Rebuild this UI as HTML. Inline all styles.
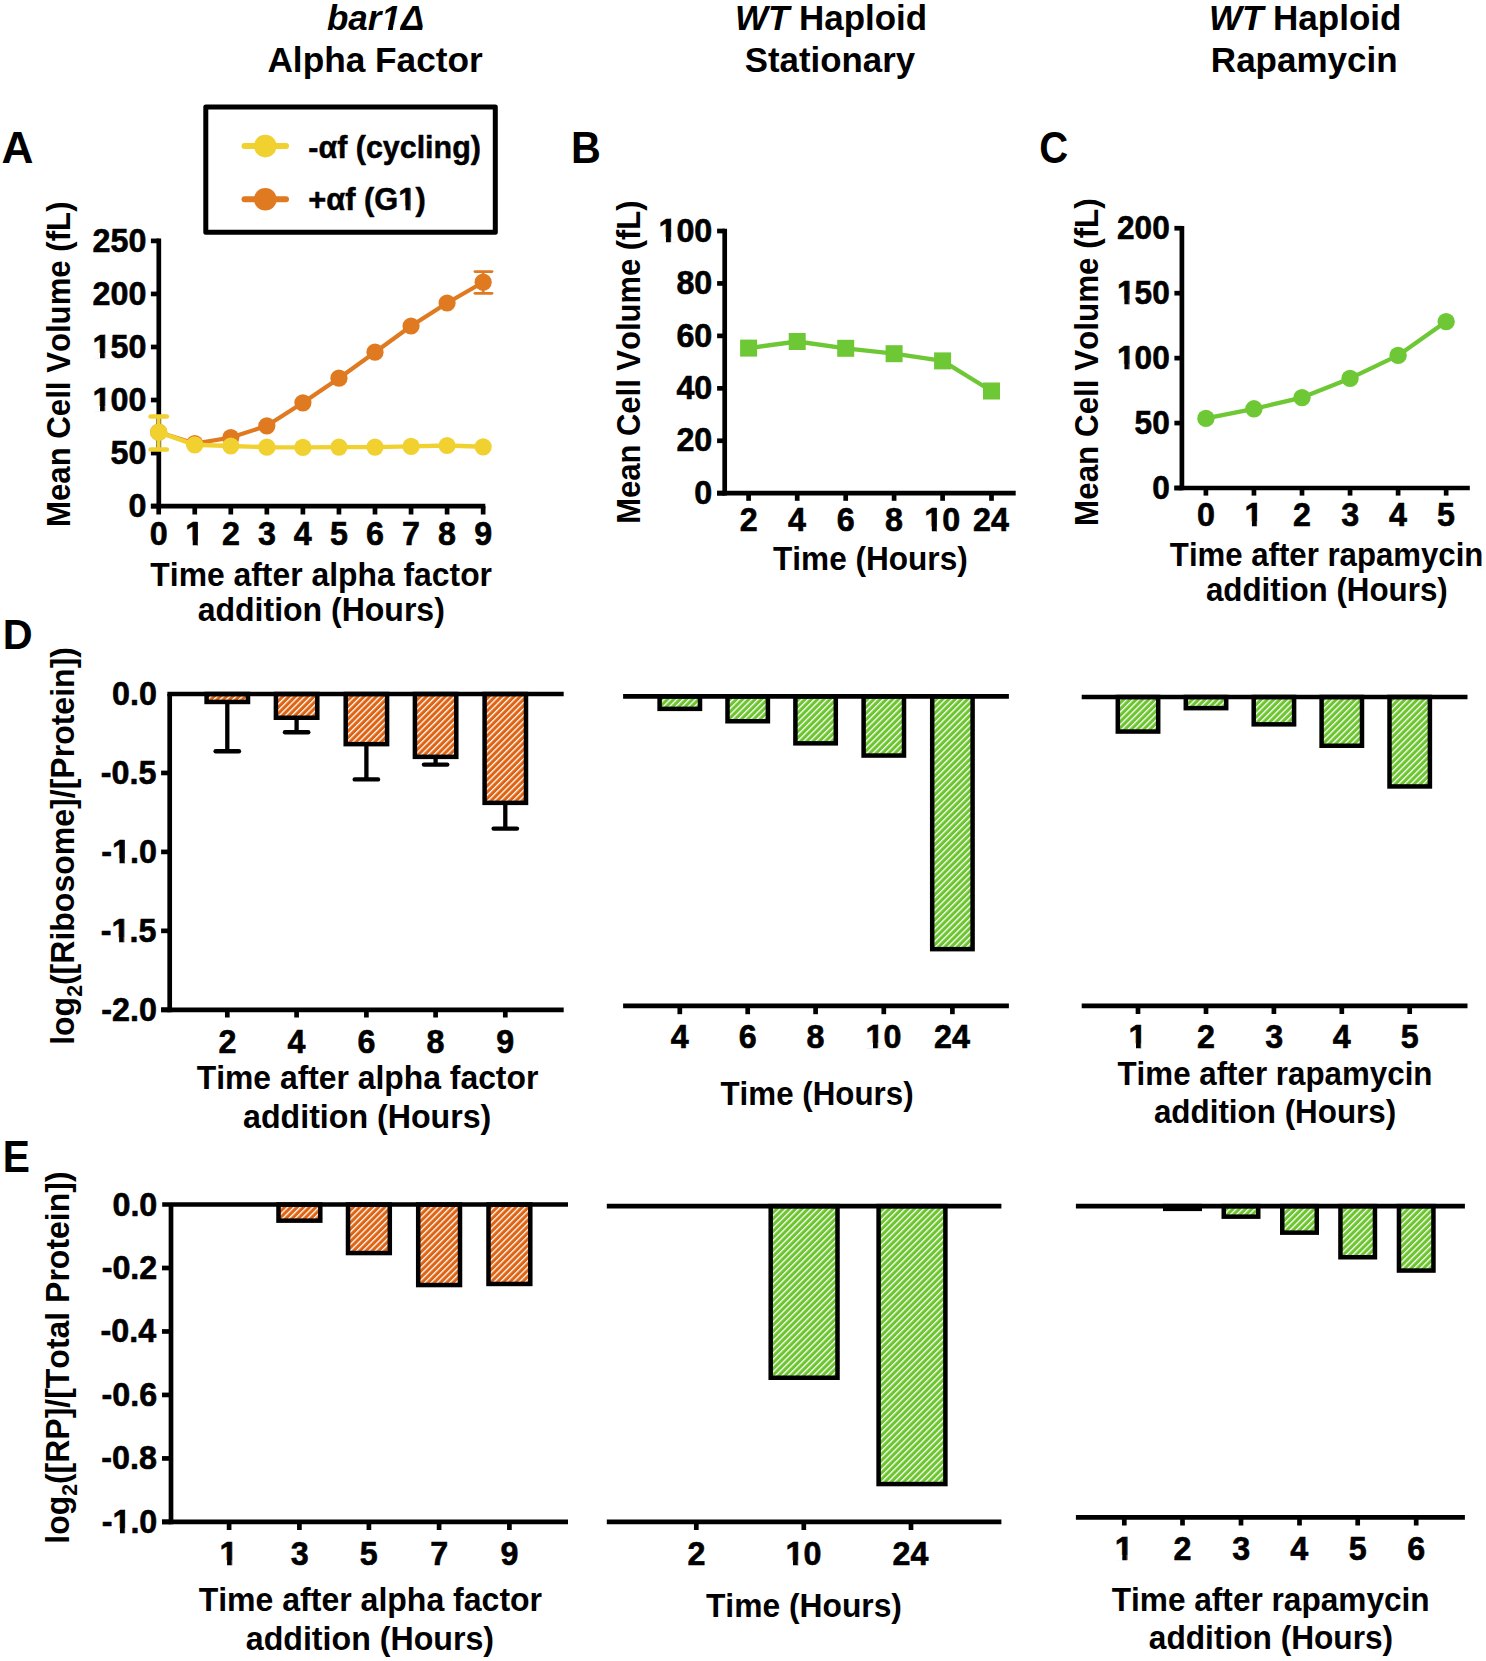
<!DOCTYPE html><html><head><meta charset="utf-8"><style>html,body{margin:0;padding:0;background:#fff;}svg{display:block;font-kerning:none;}</style></head><body><svg width="1486" height="1661" viewBox="0 0 1486 1661">
<defs>
<pattern id="ho" patternUnits="userSpaceOnUse" width="4.42" height="20" patternTransform="rotate(45)"><rect width="4.42" height="20" fill="#DE6414"/><rect x="0" width="1.3" height="20" fill="#fff"/></pattern>
<pattern id="hg" patternUnits="userSpaceOnUse" width="4.42" height="20" patternTransform="rotate(45)"><rect width="4.42" height="20" fill="#6CC52E"/><rect x="0" width="1.3" height="20" fill="#fff"/></pattern>
</defs>
<rect width="1486" height="1661" fill="#fff"/>
<text font-family="Liberation Sans, sans-serif" font-weight="bold" font-size="35" fill="#000" transform="translate(326.9,30.1) scale(1.0003,1)"><tspan font-style="italic">bar1Δ</tspan></text>
<polygon points="380.21,31.3 387.64,31.3 388.65,25.14 381.18,25.14" fill="#fff"/>
<polygon points="392.45,31.3 399.49,31.3 400.47,25.14 393.45,25.14" fill="#fff"/>
<text font-family="Liberation Sans, sans-serif" font-weight="bold" font-size="35" fill="#000" transform="translate(267.42,71.7) scale(1.0070,1)"><tspan font-style="normal">Alpha Factor</tspan></text>
<text font-family="Liberation Sans, sans-serif" font-weight="bold" font-size="35" fill="#000" transform="translate(735.04,30.1) scale(0.9979,1)"><tspan font-style="italic">WT </tspan><tspan font-style="normal">Haploid</tspan></text>
<text font-family="Liberation Sans, sans-serif" font-weight="bold" font-size="35" fill="#000" transform="translate(744.8,71.7) scale(0.9949,1)"><tspan font-style="normal">Stationary</tspan></text>
<text font-family="Liberation Sans, sans-serif" font-weight="bold" font-size="35" fill="#000" transform="translate(1208.94,30.1) scale(1.0000,1)"><tspan font-style="italic">WT </tspan><tspan font-style="normal">Haploid</tspan></text>
<text font-family="Liberation Sans, sans-serif" font-weight="bold" font-size="35" fill="#000" transform="translate(1210.86,71.7) scale(1.0009,1)"><tspan font-style="normal">Rapamycin</tspan></text>
<text font-family="Liberation Sans, sans-serif" font-weight="bold" font-size="43.7" fill="#000" transform="translate(1.5,162.8) scale(1.0130,1)"><tspan font-style="normal">A</tspan></text>
<text font-family="Liberation Sans, sans-serif" font-weight="bold" font-size="43.7" fill="#000" transform="translate(570.94,162.6) scale(0.9456,1)"><tspan font-style="normal">B</tspan></text>
<text font-family="Liberation Sans, sans-serif" font-weight="bold" font-size="44" fill="#000" transform="translate(1039.26,162.5) scale(0.9107,1)"><tspan font-style="normal">C</tspan></text>
<text font-family="Liberation Sans, sans-serif" font-weight="bold" font-size="43.2" fill="#000" transform="translate(2.73,649.1) scale(0.9587,1)"><tspan font-style="normal">D</tspan></text>
<text font-family="Liberation Sans, sans-serif" font-weight="bold" font-size="43.5" fill="#000" transform="translate(2.73,1172.4) scale(0.9363,1)"><tspan font-style="normal">E</tspan></text>
<path d="M 158.8 238.55 V 508.45" stroke="#000" stroke-width="4.7" stroke-linejoin="miter" stroke-linecap="butt" fill="none"/>
<line x1="150.9" y1="506.1" x2="485.3" y2="506.1" stroke="#000" stroke-width="4.7" stroke-linecap="butt"/>
<line x1="150.9" y1="506.1" x2="158.8" y2="506.1" stroke="#000" stroke-width="4.7" stroke-linecap="butt"/>
<text font-family="Liberation Sans, sans-serif" font-weight="bold" font-size="33.3" fill="#000" stroke="#000" stroke-width="0.6" stroke-linejoin="round" transform="translate(128.46,516.8) scale(0.9700,1)"><tspan font-style="normal">0</tspan></text>
<line x1="150.9" y1="453.06" x2="158.8" y2="453.06" stroke="#000" stroke-width="4.7" stroke-linecap="butt"/>
<text font-family="Liberation Sans, sans-serif" font-weight="bold" font-size="33.3" fill="#000" stroke="#000" stroke-width="0.6" stroke-linejoin="round" transform="translate(110.5,463.76) scale(0.9700,1)"><tspan font-style="normal">50</tspan></text>
<line x1="150.9" y1="400.02" x2="158.8" y2="400.02" stroke="#000" stroke-width="4.7" stroke-linecap="butt"/>
<text font-family="Liberation Sans, sans-serif" font-weight="bold" font-size="33.3" fill="#000" stroke="#000" stroke-width="0.6" stroke-linejoin="round" transform="translate(92.53,410.72) scale(0.9700,1)"><tspan font-style="normal">100</tspan></text>
<polygon points="92.77,411.86 100.07,411.86 100.07,406 92.77,406" fill="#fff"/>
<polygon points="104.5,411.86 111.4,411.86 111.4,406 104.5,406" fill="#fff"/>
<rect x="104.5" y="387.51" width="0.7" height="23.51" fill="#000"/>
<line x1="150.9" y1="346.98" x2="158.8" y2="346.98" stroke="#000" stroke-width="4.7" stroke-linecap="butt"/>
<text font-family="Liberation Sans, sans-serif" font-weight="bold" font-size="33.3" fill="#000" stroke="#000" stroke-width="0.6" stroke-linejoin="round" transform="translate(92.53,357.68) scale(0.9700,1)"><tspan font-style="normal">150</tspan></text>
<polygon points="92.77,358.82 100.07,358.82 100.07,352.96 92.77,352.96" fill="#fff"/>
<polygon points="104.5,358.82 111.4,358.82 111.4,352.96 104.5,352.96" fill="#fff"/>
<rect x="104.5" y="334.47" width="0.7" height="23.51" fill="#000"/>
<line x1="150.9" y1="293.94" x2="158.8" y2="293.94" stroke="#000" stroke-width="4.7" stroke-linecap="butt"/>
<text font-family="Liberation Sans, sans-serif" font-weight="bold" font-size="33.3" fill="#000" stroke="#000" stroke-width="0.6" stroke-linejoin="round" transform="translate(92.53,304.64) scale(0.9700,1)"><tspan font-style="normal">200</tspan></text>
<line x1="150.9" y1="240.9" x2="158.8" y2="240.9" stroke="#000" stroke-width="4.7" stroke-linecap="butt"/>
<text font-family="Liberation Sans, sans-serif" font-weight="bold" font-size="33.3" fill="#000" stroke="#000" stroke-width="0.6" stroke-linejoin="round" transform="translate(92.53,251.6) scale(0.9700,1)"><tspan font-style="normal">250</tspan></text>
<line x1="158.7" y1="506.1" x2="158.7" y2="514.5" stroke="#000" stroke-width="4.7" stroke-linecap="butt"/>
<text font-family="Liberation Sans, sans-serif" font-weight="bold" font-size="33.3" fill="#000" stroke="#000" stroke-width="0.6" stroke-linejoin="round" transform="translate(149.74,545.3) scale(0.9700,1)"><tspan font-style="normal">0</tspan></text>
<line x1="194.75" y1="506.1" x2="194.75" y2="514.5" stroke="#000" stroke-width="4.7" stroke-linecap="butt"/>
<text font-family="Liberation Sans, sans-serif" font-weight="bold" font-size="33.3" fill="#000" stroke="#000" stroke-width="0.6" stroke-linejoin="round" transform="translate(185.2,545.3) scale(0.9700,1)"><tspan font-style="normal">1</tspan></text>
<polygon points="185.43,546.44 192.74,546.44 192.74,540.58 185.43,540.58" fill="#fff"/>
<polygon points="197.17,546.44 204.07,546.44 204.07,540.58 197.17,540.58" fill="#fff"/>
<rect x="197.17" y="522.09" width="0.7" height="23.51" fill="#000"/>
<line x1="230.8" y1="506.1" x2="230.8" y2="514.5" stroke="#000" stroke-width="4.7" stroke-linecap="butt"/>
<text font-family="Liberation Sans, sans-serif" font-weight="bold" font-size="33.3" fill="#000" stroke="#000" stroke-width="0.6" stroke-linejoin="round" transform="translate(221.9,545.3) scale(0.9700,1)"><tspan font-style="normal">2</tspan></text>
<line x1="266.85" y1="506.1" x2="266.85" y2="514.5" stroke="#000" stroke-width="4.7" stroke-linecap="butt"/>
<text font-family="Liberation Sans, sans-serif" font-weight="bold" font-size="33.3" fill="#000" stroke="#000" stroke-width="0.6" stroke-linejoin="round" transform="translate(258.08,545.3) scale(0.9700,1)"><tspan font-style="normal">3</tspan></text>
<line x1="302.9" y1="506.1" x2="302.9" y2="514.5" stroke="#000" stroke-width="4.7" stroke-linecap="butt"/>
<text font-family="Liberation Sans, sans-serif" font-weight="bold" font-size="33.3" fill="#000" stroke="#000" stroke-width="0.6" stroke-linejoin="round" transform="translate(293.76,545.3) scale(0.9700,1)"><tspan font-style="normal">4</tspan></text>
<line x1="338.95" y1="506.1" x2="338.95" y2="514.5" stroke="#000" stroke-width="4.7" stroke-linecap="butt"/>
<text font-family="Liberation Sans, sans-serif" font-weight="bold" font-size="33.3" fill="#000" stroke="#000" stroke-width="0.6" stroke-linejoin="round" transform="translate(329.92,545.3) scale(0.9700,1)"><tspan font-style="normal">5</tspan></text>
<line x1="375" y1="506.1" x2="375" y2="514.5" stroke="#000" stroke-width="4.7" stroke-linecap="butt"/>
<text font-family="Liberation Sans, sans-serif" font-weight="bold" font-size="33.3" fill="#000" stroke="#000" stroke-width="0.6" stroke-linejoin="round" transform="translate(366.01,545.3) scale(0.9700,1)"><tspan font-style="normal">6</tspan></text>
<line x1="411.05" y1="506.1" x2="411.05" y2="514.5" stroke="#000" stroke-width="4.7" stroke-linecap="butt"/>
<text font-family="Liberation Sans, sans-serif" font-weight="bold" font-size="33.3" fill="#000" stroke="#000" stroke-width="0.6" stroke-linejoin="round" transform="translate(402.08,545.3) scale(0.9700,1)"><tspan font-style="normal">7</tspan></text>
<line x1="447.1" y1="506.1" x2="447.1" y2="514.5" stroke="#000" stroke-width="4.7" stroke-linecap="butt"/>
<text font-family="Liberation Sans, sans-serif" font-weight="bold" font-size="33.3" fill="#000" stroke="#000" stroke-width="0.6" stroke-linejoin="round" transform="translate(438.1,545.3) scale(0.9700,1)"><tspan font-style="normal">8</tspan></text>
<line x1="483.15" y1="506.1" x2="483.15" y2="514.5" stroke="#000" stroke-width="4.7" stroke-linecap="butt"/>
<text font-family="Liberation Sans, sans-serif" font-weight="bold" font-size="33.3" fill="#000" stroke="#000" stroke-width="0.6" stroke-linejoin="round" transform="translate(474.21,545.3) scale(0.9700,1)"><tspan font-style="normal">9</tspan></text>
<text font-family="Liberation Sans, sans-serif" font-weight="bold" font-size="34" fill="#000" transform="translate(150.34,586) scale(0.9374,1)"><tspan font-style="normal">Time after alpha factor</tspan></text>
<text font-family="Liberation Sans, sans-serif" font-weight="bold" font-size="34" fill="#000" transform="translate(197.66,621.3) scale(0.9418,1)"><tspan font-style="normal">addition (Hours)</tspan></text>
<text font-family="Liberation Sans, sans-serif" font-weight="bold" font-size="34" transform="translate(70.1,526.98) rotate(-90) scale(0.9166,1)"><tspan font-style="normal">Mean Cell Volume (fL)</tspan></text>
<path d="M 158.7 432.2 L 194.75 443.5 L 230.8 437.6 L 266.85 425.8 L 302.9 402.8 L 338.95 378.2 L 375 352.2 L 411.05 326 L 447.1 303 L 483.15 282.2" stroke="#E07A20" stroke-width="4.2" stroke-linejoin="round" stroke-linecap="butt" fill="none"/>
<line x1="483.15" y1="271.6" x2="483.15" y2="293.3" stroke="#E07A20" stroke-width="2.8" stroke-linecap="butt"/>
<line x1="475" y1="271.6" x2="492" y2="271.6" stroke="#E07A20" stroke-width="2.8" stroke-linecap="round"/>
<line x1="475" y1="293.3" x2="492" y2="293.3" stroke="#E07A20" stroke-width="2.8" stroke-linecap="round"/>
<circle cx="158.7" cy="432.2" r="8.6" fill="#E07A20"/>
<circle cx="194.75" cy="443.5" r="8.6" fill="#E07A20"/>
<circle cx="230.8" cy="437.6" r="8.6" fill="#E07A20"/>
<circle cx="266.85" cy="425.8" r="8.6" fill="#E07A20"/>
<circle cx="302.9" cy="402.8" r="8.6" fill="#E07A20"/>
<circle cx="338.95" cy="378.2" r="8.6" fill="#E07A20"/>
<circle cx="375" cy="352.2" r="8.6" fill="#E07A20"/>
<circle cx="411.05" cy="326" r="8.6" fill="#E07A20"/>
<circle cx="447.1" cy="303" r="8.6" fill="#E07A20"/>
<circle cx="483.15" cy="282.2" r="8.6" fill="#E07A20"/>
<path d="M 158.7 432.2 L 194.75 444.8 L 230.8 446 L 266.85 447.2 L 302.9 447.4 L 338.95 447.1 L 375 447.1 L 411.05 446.4 L 447.1 445.5 L 483.15 446.8" stroke="#F1D130" stroke-width="4.4" stroke-linejoin="round" stroke-linecap="butt" fill="none"/>
<line x1="158.7" y1="416.5" x2="158.7" y2="449.5" stroke="#F1D130" stroke-width="4" stroke-linecap="butt"/>
<line x1="150.6" y1="416.5" x2="166.8" y2="416.5" stroke="#F1D130" stroke-width="4.6" stroke-linecap="round"/>
<line x1="150.6" y1="449.5" x2="166.8" y2="449.5" stroke="#F1D130" stroke-width="4.6" stroke-linecap="round"/>
<circle cx="158.7" cy="432.2" r="8.6" fill="#F1D130"/>
<circle cx="194.75" cy="444.8" r="8.6" fill="#F1D130"/>
<circle cx="230.8" cy="446" r="8.6" fill="#F1D130"/>
<circle cx="266.85" cy="447.2" r="8.6" fill="#F1D130"/>
<circle cx="302.9" cy="447.4" r="8.6" fill="#F1D130"/>
<circle cx="338.95" cy="447.1" r="8.6" fill="#F1D130"/>
<circle cx="375" cy="447.1" r="8.6" fill="#F1D130"/>
<circle cx="411.05" cy="446.4" r="8.6" fill="#F1D130"/>
<circle cx="447.1" cy="445.5" r="8.6" fill="#F1D130"/>
<circle cx="483.15" cy="446.8" r="8.6" fill="#F1D130"/>
<rect x="205.8" y="106.9" width="289.5" height="125.3" fill="none" stroke="#000" stroke-width="5" stroke-linejoin="round"/>
<line x1="244.5" y1="146.1" x2="286" y2="146.1" stroke="#F1D130" stroke-width="6" stroke-linecap="round"/>
<circle cx="265.3" cy="146.1" r="11.3" fill="#F1D130"/>
<line x1="244.5" y1="199.3" x2="286" y2="199.3" stroke="#E07A20" stroke-width="6" stroke-linecap="round"/>
<circle cx="265.3" cy="199.3" r="11.3" fill="#E07A20"/>
<text font-family="Liberation Sans, sans-serif" font-weight="bold" font-size="31.8" fill="#000" stroke="#000" stroke-width="0.5" stroke-linejoin="round" transform="translate(308.36,157.8) scale(0.9572,1)"><tspan font-style="normal">-αf (cycling)</tspan></text>
<text font-family="Liberation Sans, sans-serif" font-weight="bold" font-size="31.8" fill="#000" stroke="#000" stroke-width="0.5" stroke-linejoin="round" transform="translate(308.25,210.4) scale(0.9702,1)"><tspan font-style="normal">+αf (G1)</tspan></text>
<polygon points="398.55,211.49 405.56,211.49 405.56,205.9 398.55,205.9" fill="#fff"/>
<polygon points="409.79,211.49 416.4,211.49 416.4,205.9 409.79,205.9" fill="#fff"/>
<rect x="409.79" y="188.27" width="0.7" height="22.38" fill="#000"/>
<path d="M 724.7 228.65 V 495.55" stroke="#000" stroke-width="4.7" stroke-linejoin="miter" stroke-linecap="butt" fill="none"/>
<line x1="717.1" y1="493.2" x2="1015.7" y2="493.2" stroke="#000" stroke-width="4.7" stroke-linecap="butt"/>
<line x1="717.1" y1="493.2" x2="724.7" y2="493.2" stroke="#000" stroke-width="4.7" stroke-linecap="butt"/>
<text font-family="Liberation Sans, sans-serif" font-weight="bold" font-size="33.3" fill="#000" stroke="#000" stroke-width="0.6" stroke-linejoin="round" transform="translate(694.36,503.9) scale(0.9700,1)"><tspan font-style="normal">0</tspan></text>
<line x1="717.1" y1="440.76" x2="724.7" y2="440.76" stroke="#000" stroke-width="4.7" stroke-linecap="butt"/>
<text font-family="Liberation Sans, sans-serif" font-weight="bold" font-size="33.3" fill="#000" stroke="#000" stroke-width="0.6" stroke-linejoin="round" transform="translate(676.4,451.46) scale(0.9700,1)"><tspan font-style="normal">20</tspan></text>
<line x1="717.1" y1="388.32" x2="724.7" y2="388.32" stroke="#000" stroke-width="4.7" stroke-linecap="butt"/>
<text font-family="Liberation Sans, sans-serif" font-weight="bold" font-size="33.3" fill="#000" stroke="#000" stroke-width="0.6" stroke-linejoin="round" transform="translate(676.4,399.02) scale(0.9700,1)"><tspan font-style="normal">40</tspan></text>
<line x1="717.1" y1="335.88" x2="724.7" y2="335.88" stroke="#000" stroke-width="4.7" stroke-linecap="butt"/>
<text font-family="Liberation Sans, sans-serif" font-weight="bold" font-size="33.3" fill="#000" stroke="#000" stroke-width="0.6" stroke-linejoin="round" transform="translate(676.4,346.58) scale(0.9700,1)"><tspan font-style="normal">60</tspan></text>
<line x1="717.1" y1="283.44" x2="724.7" y2="283.44" stroke="#000" stroke-width="4.7" stroke-linecap="butt"/>
<text font-family="Liberation Sans, sans-serif" font-weight="bold" font-size="33.3" fill="#000" stroke="#000" stroke-width="0.6" stroke-linejoin="round" transform="translate(676.4,294.14) scale(0.9700,1)"><tspan font-style="normal">80</tspan></text>
<line x1="717.1" y1="231" x2="724.7" y2="231" stroke="#000" stroke-width="4.7" stroke-linecap="butt"/>
<text font-family="Liberation Sans, sans-serif" font-weight="bold" font-size="33.3" fill="#000" stroke="#000" stroke-width="0.6" stroke-linejoin="round" transform="translate(658.43,241.7) scale(0.9700,1)"><tspan font-style="normal">100</tspan></text>
<polygon points="658.67,242.84 665.97,242.84 665.97,236.98 658.67,236.98" fill="#fff"/>
<polygon points="670.4,242.84 677.3,242.84 677.3,236.98 670.4,236.98" fill="#fff"/>
<rect x="670.4" y="218.49" width="0.7" height="23.51" fill="#000"/>
<line x1="748.6" y1="493.2" x2="748.6" y2="500.8" stroke="#000" stroke-width="4.7" stroke-linecap="butt"/>
<text font-family="Liberation Sans, sans-serif" font-weight="bold" font-size="33.3" fill="#000" stroke="#000" stroke-width="0.6" stroke-linejoin="round" transform="translate(739.7,531.2) scale(0.9700,1)"><tspan font-style="normal">2</tspan></text>
<line x1="797.2" y1="493.2" x2="797.2" y2="500.8" stroke="#000" stroke-width="4.7" stroke-linecap="butt"/>
<text font-family="Liberation Sans, sans-serif" font-weight="bold" font-size="33.3" fill="#000" stroke="#000" stroke-width="0.6" stroke-linejoin="round" transform="translate(788.06,531.2) scale(0.9700,1)"><tspan font-style="normal">4</tspan></text>
<line x1="845.7" y1="493.2" x2="845.7" y2="500.8" stroke="#000" stroke-width="4.7" stroke-linecap="butt"/>
<text font-family="Liberation Sans, sans-serif" font-weight="bold" font-size="33.3" fill="#000" stroke="#000" stroke-width="0.6" stroke-linejoin="round" transform="translate(836.71,531.2) scale(0.9700,1)"><tspan font-style="normal">6</tspan></text>
<line x1="894.1" y1="493.2" x2="894.1" y2="500.8" stroke="#000" stroke-width="4.7" stroke-linecap="butt"/>
<text font-family="Liberation Sans, sans-serif" font-weight="bold" font-size="33.3" fill="#000" stroke="#000" stroke-width="0.6" stroke-linejoin="round" transform="translate(885.1,531.2) scale(0.9700,1)"><tspan font-style="normal">8</tspan></text>
<line x1="942.6" y1="493.2" x2="942.6" y2="500.8" stroke="#000" stroke-width="4.7" stroke-linecap="butt"/>
<text font-family="Liberation Sans, sans-serif" font-weight="bold" font-size="33.3" fill="#000" stroke="#000" stroke-width="0.6" stroke-linejoin="round" transform="translate(924.28,531.2) scale(0.9700,1)"><tspan font-style="normal">10</tspan></text>
<polygon points="924.52,532.34 931.82,532.34 931.82,526.48 924.52,526.48" fill="#fff"/>
<polygon points="936.25,532.34 943.15,532.34 943.15,526.48 936.25,526.48" fill="#fff"/>
<rect x="936.25" y="507.99" width="0.7" height="23.51" fill="#000"/>
<line x1="991.5" y1="493.2" x2="991.5" y2="500.8" stroke="#000" stroke-width="4.7" stroke-linecap="butt"/>
<text font-family="Liberation Sans, sans-serif" font-weight="bold" font-size="33.3" fill="#000" stroke="#000" stroke-width="0.6" stroke-linejoin="round" transform="translate(973.06,531.2) scale(0.9700,1)"><tspan font-style="normal">24</tspan></text>
<text font-family="Liberation Sans, sans-serif" font-weight="bold" font-size="34" fill="#000" transform="translate(773.05,569.8) scale(0.9287,1)"><tspan font-style="normal">Time (Hours)</tspan></text>
<text font-family="Liberation Sans, sans-serif" font-weight="bold" font-size="34" transform="translate(640.1,523.67) rotate(-90) scale(0.9104,1)"><tspan font-style="normal">Mean Cell Volume (fL)</tspan></text>
<path d="M 748.6 348.1 L 797.2 341.5 L 845.7 348.3 L 894.1 353.7 L 942.6 360.9 L 991.5 391" stroke="#6EC835" stroke-width="4.3" stroke-linejoin="round" stroke-linecap="butt" fill="none"/>
<rect x="740.1" y="339.6" width="17" height="17" fill="#6EC835"/>
<rect x="788.7" y="333" width="17" height="17" fill="#6EC835"/>
<rect x="837.2" y="339.8" width="17" height="17" fill="#6EC835"/>
<rect x="885.6" y="345.2" width="17" height="17" fill="#6EC835"/>
<rect x="934.1" y="352.4" width="17" height="17" fill="#6EC835"/>
<rect x="983" y="382.5" width="17" height="17" fill="#6EC835"/>
<path d="M 1181.9 225.89 V 490.35" stroke="#000" stroke-width="4.7" stroke-linejoin="miter" stroke-linecap="butt" fill="none"/>
<line x1="1174.4" y1="488" x2="1469.8" y2="488" stroke="#000" stroke-width="4.7" stroke-linecap="butt"/>
<line x1="1174.4" y1="488" x2="1181.9" y2="488" stroke="#000" stroke-width="4.7" stroke-linecap="butt"/>
<text font-family="Liberation Sans, sans-serif" font-weight="bold" font-size="33.3" fill="#000" stroke="#000" stroke-width="0.6" stroke-linejoin="round" transform="translate(1152.2,498.9) scale(0.9500,1)"><tspan font-style="normal">0</tspan></text>
<line x1="1174.4" y1="423.06" x2="1181.9" y2="423.06" stroke="#000" stroke-width="4.7" stroke-linecap="butt"/>
<text font-family="Liberation Sans, sans-serif" font-weight="bold" font-size="33.3" fill="#000" stroke="#000" stroke-width="0.6" stroke-linejoin="round" transform="translate(1134.61,433.96) scale(0.9500,1)"><tspan font-style="normal">50</tspan></text>
<line x1="1174.4" y1="358.12" x2="1181.9" y2="358.12" stroke="#000" stroke-width="4.7" stroke-linecap="butt"/>
<text font-family="Liberation Sans, sans-serif" font-weight="bold" font-size="33.3" fill="#000" stroke="#000" stroke-width="0.6" stroke-linejoin="round" transform="translate(1117.02,369.02) scale(0.9500,1)"><tspan font-style="normal">100</tspan></text>
<polygon points="1117.21,370.16 1124.4,370.16 1124.4,364.3 1117.21,364.3" fill="#fff"/>
<polygon points="1128.74,370.16 1135.53,370.16 1135.53,364.3 1128.74,364.3" fill="#fff"/>
<rect x="1128.74" y="345.81" width="0.7" height="23.51" fill="#000"/>
<line x1="1174.4" y1="293.18" x2="1181.9" y2="293.18" stroke="#000" stroke-width="4.7" stroke-linecap="butt"/>
<text font-family="Liberation Sans, sans-serif" font-weight="bold" font-size="33.3" fill="#000" stroke="#000" stroke-width="0.6" stroke-linejoin="round" transform="translate(1117.02,304.08) scale(0.9500,1)"><tspan font-style="normal">150</tspan></text>
<polygon points="1117.21,305.22 1124.4,305.22 1124.4,299.36 1117.21,299.36" fill="#fff"/>
<polygon points="1128.74,305.22 1135.53,305.22 1135.53,299.36 1128.74,299.36" fill="#fff"/>
<rect x="1128.74" y="280.87" width="0.7" height="23.51" fill="#000"/>
<line x1="1174.4" y1="228.24" x2="1181.9" y2="228.24" stroke="#000" stroke-width="4.7" stroke-linecap="butt"/>
<text font-family="Liberation Sans, sans-serif" font-weight="bold" font-size="33.3" fill="#000" stroke="#000" stroke-width="0.6" stroke-linejoin="round" transform="translate(1117.02,239.14) scale(0.9500,1)"><tspan font-style="normal">200</tspan></text>
<line x1="1205.9" y1="488" x2="1205.9" y2="495.6" stroke="#000" stroke-width="4.7" stroke-linecap="butt"/>
<text font-family="Liberation Sans, sans-serif" font-weight="bold" font-size="33.3" fill="#000" stroke="#000" stroke-width="0.6" stroke-linejoin="round" transform="translate(1196.94,526) scale(0.9700,1)"><tspan font-style="normal">0</tspan></text>
<line x1="1253.95" y1="488" x2="1253.95" y2="495.6" stroke="#000" stroke-width="4.7" stroke-linecap="butt"/>
<text font-family="Liberation Sans, sans-serif" font-weight="bold" font-size="33.3" fill="#000" stroke="#000" stroke-width="0.6" stroke-linejoin="round" transform="translate(1244.4,526) scale(0.9700,1)"><tspan font-style="normal">1</tspan></text>
<polygon points="1244.63,527.14 1251.94,527.14 1251.94,521.28 1244.63,521.28" fill="#fff"/>
<polygon points="1256.37,527.14 1263.27,527.14 1263.27,521.28 1256.37,521.28" fill="#fff"/>
<rect x="1256.37" y="502.79" width="0.7" height="23.51" fill="#000"/>
<line x1="1302" y1="488" x2="1302" y2="495.6" stroke="#000" stroke-width="4.7" stroke-linecap="butt"/>
<text font-family="Liberation Sans, sans-serif" font-weight="bold" font-size="33.3" fill="#000" stroke="#000" stroke-width="0.6" stroke-linejoin="round" transform="translate(1293.1,526) scale(0.9700,1)"><tspan font-style="normal">2</tspan></text>
<line x1="1350.05" y1="488" x2="1350.05" y2="495.6" stroke="#000" stroke-width="4.7" stroke-linecap="butt"/>
<text font-family="Liberation Sans, sans-serif" font-weight="bold" font-size="33.3" fill="#000" stroke="#000" stroke-width="0.6" stroke-linejoin="round" transform="translate(1341.28,526) scale(0.9700,1)"><tspan font-style="normal">3</tspan></text>
<line x1="1398.1" y1="488" x2="1398.1" y2="495.6" stroke="#000" stroke-width="4.7" stroke-linecap="butt"/>
<text font-family="Liberation Sans, sans-serif" font-weight="bold" font-size="33.3" fill="#000" stroke="#000" stroke-width="0.6" stroke-linejoin="round" transform="translate(1388.96,526) scale(0.9700,1)"><tspan font-style="normal">4</tspan></text>
<line x1="1446.15" y1="488" x2="1446.15" y2="495.6" stroke="#000" stroke-width="4.7" stroke-linecap="butt"/>
<text font-family="Liberation Sans, sans-serif" font-weight="bold" font-size="33.3" fill="#000" stroke="#000" stroke-width="0.6" stroke-linejoin="round" transform="translate(1437.12,526) scale(0.9700,1)"><tspan font-style="normal">5</tspan></text>
<text font-family="Liberation Sans, sans-serif" font-weight="bold" font-size="34" fill="#000" transform="translate(1169.85,565.7) scale(0.9171,1)"><tspan font-style="normal">Time after rapamycin</tspan></text>
<text font-family="Liberation Sans, sans-serif" font-weight="bold" font-size="34" fill="#000" transform="translate(1205.88,600.9) scale(0.9218,1)"><tspan font-style="normal">addition (Hours)</tspan></text>
<text font-family="Liberation Sans, sans-serif" font-weight="bold" font-size="34" transform="translate(1097.9,525.9) rotate(-90) scale(0.9226,1)"><tspan font-style="normal">Mean Cell Volume (fL)</tspan></text>
<path d="M 1205.9 418.4 L 1253.95 408.8 L 1302 397.6 L 1350.05 378.4 L 1398.1 355.4 L 1446.15 321.6" stroke="#6EC835" stroke-width="4.3" stroke-linejoin="round" stroke-linecap="butt" fill="none"/>
<circle cx="1205.9" cy="418.4" r="8.7" fill="#6EC835"/>
<circle cx="1253.95" cy="408.8" r="8.7" fill="#6EC835"/>
<circle cx="1302" cy="397.6" r="8.7" fill="#6EC835"/>
<circle cx="1350.05" cy="378.4" r="8.7" fill="#6EC835"/>
<circle cx="1398.1" cy="355.4" r="8.7" fill="#6EC835"/>
<circle cx="1446.15" cy="321.6" r="8.7" fill="#6EC835"/>
<line x1="227.3" y1="701.5" x2="227.3" y2="751.3" stroke="#000" stroke-width="4.3" stroke-linecap="butt"/>
<line x1="215.65" y1="751.3" x2="238.95" y2="751.3" stroke="#000" stroke-width="4.4" stroke-linecap="round"/>
<rect x="206.6" y="694" width="41.4" height="7.95" fill="url(#ho)" stroke="#000" stroke-width="4.5"/>
<line x1="296.6" y1="717.3" x2="296.6" y2="732.2" stroke="#000" stroke-width="4.3" stroke-linecap="butt"/>
<line x1="284.95" y1="732.2" x2="308.25" y2="732.2" stroke="#000" stroke-width="4.4" stroke-linecap="round"/>
<rect x="275.9" y="694" width="41.4" height="23.75" fill="url(#ho)" stroke="#000" stroke-width="4.5"/>
<line x1="366.4" y1="743.7" x2="366.4" y2="779.4" stroke="#000" stroke-width="4.3" stroke-linecap="butt"/>
<line x1="354.75" y1="779.4" x2="378.05" y2="779.4" stroke="#000" stroke-width="4.4" stroke-linecap="round"/>
<rect x="345.7" y="694" width="41.4" height="50.15" fill="url(#ho)" stroke="#000" stroke-width="4.5"/>
<line x1="435.6" y1="756.4" x2="435.6" y2="764.6" stroke="#000" stroke-width="4.3" stroke-linecap="butt"/>
<line x1="423.95" y1="764.6" x2="447.25" y2="764.6" stroke="#000" stroke-width="4.4" stroke-linecap="round"/>
<rect x="414.9" y="694" width="41.4" height="62.85" fill="url(#ho)" stroke="#000" stroke-width="4.5"/>
<line x1="505.3" y1="802.4" x2="505.3" y2="828.6" stroke="#000" stroke-width="4.3" stroke-linecap="butt"/>
<line x1="493.65" y1="828.6" x2="516.95" y2="828.6" stroke="#000" stroke-width="4.4" stroke-linecap="round"/>
<rect x="484.6" y="694" width="41.4" height="108.85" fill="url(#ho)" stroke="#000" stroke-width="4.5"/>
<path d="M 169.7 694 V 1012.15" stroke="#000" stroke-width="4.7" stroke-linejoin="round" stroke-linecap="butt" fill="none"/>
<line x1="167.35" y1="694" x2="563.7" y2="694" stroke="#000" stroke-width="4.7" stroke-linecap="butt"/>
<line x1="161.1" y1="1009.8" x2="563.7" y2="1009.8" stroke="#000" stroke-width="4.7" stroke-linecap="butt"/>
<line x1="161.1" y1="772.95" x2="169.7" y2="772.95" stroke="#000" stroke-width="4.7" stroke-linecap="butt"/>
<line x1="161.1" y1="851.9" x2="169.7" y2="851.9" stroke="#000" stroke-width="4.7" stroke-linecap="butt"/>
<line x1="161.1" y1="930.85" x2="169.7" y2="930.85" stroke="#000" stroke-width="4.7" stroke-linecap="butt"/>
<line x1="161.1" y1="1009.8" x2="169.7" y2="1009.8" stroke="#000" stroke-width="4.7" stroke-linecap="butt"/>
<text font-family="Liberation Sans, sans-serif" font-weight="bold" font-size="33.3" fill="#000" stroke="#000" stroke-width="0.6" stroke-linejoin="round" transform="translate(112.02,705.2) scale(0.9700,1)"><tspan font-style="normal">0.0</tspan></text>
<text font-family="Liberation Sans, sans-serif" font-weight="bold" font-size="33.3" fill="#000" stroke="#000" stroke-width="0.6" stroke-linejoin="round" transform="translate(100.84,784.15) scale(0.9700,1)"><tspan font-style="normal">-0.5</tspan></text>
<text font-family="Liberation Sans, sans-serif" font-weight="bold" font-size="33.3" fill="#000" stroke="#000" stroke-width="0.6" stroke-linejoin="round" transform="translate(101.27,863.1) scale(0.9700,1)"><tspan font-style="normal">-1.0</tspan></text>
<polygon points="112.26,864.24 119.56,864.24 119.56,858.38 112.26,858.38" fill="#fff"/>
<polygon points="123.99,864.24 130.89,864.24 130.89,858.38 123.99,858.38" fill="#fff"/>
<rect x="123.99" y="839.89" width="0.7" height="23.51" fill="#000"/>
<text font-family="Liberation Sans, sans-serif" font-weight="bold" font-size="33.3" fill="#000" stroke="#000" stroke-width="0.6" stroke-linejoin="round" transform="translate(100.84,942.05) scale(0.9700,1)"><tspan font-style="normal">-1.5</tspan></text>
<polygon points="111.83,943.19 119.14,943.19 119.14,937.33 111.83,937.33" fill="#fff"/>
<polygon points="123.57,943.19 130.46,943.19 130.46,937.33 123.57,937.33" fill="#fff"/>
<rect x="123.57" y="918.84" width="0.7" height="23.51" fill="#000"/>
<text font-family="Liberation Sans, sans-serif" font-weight="bold" font-size="33.3" fill="#000" stroke="#000" stroke-width="0.6" stroke-linejoin="round" transform="translate(101.27,1021) scale(0.9700,1)"><tspan font-style="normal">-2.0</tspan></text>
<line x1="227.3" y1="1009.8" x2="227.3" y2="1017.5" stroke="#000" stroke-width="4.7" stroke-linecap="butt"/>
<text font-family="Liberation Sans, sans-serif" font-weight="bold" font-size="33.3" fill="#000" stroke="#000" stroke-width="0.6" stroke-linejoin="round" transform="translate(218.4,1052.8) scale(0.9700,1)"><tspan font-style="normal">2</tspan></text>
<line x1="296.6" y1="1009.8" x2="296.6" y2="1017.5" stroke="#000" stroke-width="4.7" stroke-linecap="butt"/>
<text font-family="Liberation Sans, sans-serif" font-weight="bold" font-size="33.3" fill="#000" stroke="#000" stroke-width="0.6" stroke-linejoin="round" transform="translate(287.46,1052.8) scale(0.9700,1)"><tspan font-style="normal">4</tspan></text>
<line x1="366.4" y1="1009.8" x2="366.4" y2="1017.5" stroke="#000" stroke-width="4.7" stroke-linecap="butt"/>
<text font-family="Liberation Sans, sans-serif" font-weight="bold" font-size="33.3" fill="#000" stroke="#000" stroke-width="0.6" stroke-linejoin="round" transform="translate(357.41,1052.8) scale(0.9700,1)"><tspan font-style="normal">6</tspan></text>
<line x1="435.6" y1="1009.8" x2="435.6" y2="1017.5" stroke="#000" stroke-width="4.7" stroke-linecap="butt"/>
<text font-family="Liberation Sans, sans-serif" font-weight="bold" font-size="33.3" fill="#000" stroke="#000" stroke-width="0.6" stroke-linejoin="round" transform="translate(426.6,1052.8) scale(0.9700,1)"><tspan font-style="normal">8</tspan></text>
<line x1="505.3" y1="1009.8" x2="505.3" y2="1017.5" stroke="#000" stroke-width="4.7" stroke-linecap="butt"/>
<text font-family="Liberation Sans, sans-serif" font-weight="bold" font-size="33.3" fill="#000" stroke="#000" stroke-width="0.6" stroke-linejoin="round" transform="translate(496.36,1052.8) scale(0.9700,1)"><tspan font-style="normal">9</tspan></text>
<text font-family="Liberation Sans, sans-serif" font-weight="bold" font-size="34" fill="#000" transform="translate(196.74,1089.3) scale(0.9369,1)"><tspan font-style="normal">Time after alpha factor</tspan></text>
<text font-family="Liberation Sans, sans-serif" font-weight="bold" font-size="34" fill="#000" transform="translate(243.06,1127.6) scale(0.9460,1)"><tspan font-style="normal">addition (Hours)</tspan></text>
<text font-family="Liberation Sans, sans-serif" font-weight="bold" font-size="34" transform="translate(73.9,1044.84) rotate(-90) scale(0.9425,1)"><tspan font-style="normal">log</tspan><tspan font-style="normal" font-size="22.44" dy="8">2</tspan><tspan font-style="normal" font-size="34" dy="-8">([Ribosome]/[Protein])</tspan></text>
<rect x="659.6" y="696.3" width="40.4" height="12.55" fill="url(#hg)" stroke="#000" stroke-width="4.5"/>
<rect x="727.5" y="696.3" width="40.4" height="24.95" fill="url(#hg)" stroke="#000" stroke-width="4.5"/>
<rect x="795.4" y="696.3" width="40.4" height="47.05" fill="url(#hg)" stroke="#000" stroke-width="4.5"/>
<rect x="863.6" y="696.3" width="40.4" height="59.25" fill="url(#hg)" stroke="#000" stroke-width="4.5"/>
<rect x="932.2" y="696.3" width="40.4" height="252.85" fill="url(#hg)" stroke="#000" stroke-width="4.5"/>
<line x1="623.1" y1="696.3" x2="1008.9" y2="696.3" stroke="#000" stroke-width="4.7" stroke-linecap="butt"/>
<line x1="623.1" y1="1005.9" x2="1008.9" y2="1005.9" stroke="#000" stroke-width="4.7" stroke-linecap="butt"/>
<line x1="679.8" y1="1005.9" x2="679.8" y2="1014.2" stroke="#000" stroke-width="4.7" stroke-linecap="butt"/>
<text font-family="Liberation Sans, sans-serif" font-weight="bold" font-size="33.3" fill="#000" stroke="#000" stroke-width="0.6" stroke-linejoin="round" transform="translate(670.66,1047.6) scale(0.9700,1)"><tspan font-style="normal">4</tspan></text>
<line x1="747.7" y1="1005.9" x2="747.7" y2="1014.2" stroke="#000" stroke-width="4.7" stroke-linecap="butt"/>
<text font-family="Liberation Sans, sans-serif" font-weight="bold" font-size="33.3" fill="#000" stroke="#000" stroke-width="0.6" stroke-linejoin="round" transform="translate(738.71,1047.6) scale(0.9700,1)"><tspan font-style="normal">6</tspan></text>
<line x1="815.6" y1="1005.9" x2="815.6" y2="1014.2" stroke="#000" stroke-width="4.7" stroke-linecap="butt"/>
<text font-family="Liberation Sans, sans-serif" font-weight="bold" font-size="33.3" fill="#000" stroke="#000" stroke-width="0.6" stroke-linejoin="round" transform="translate(806.6,1047.6) scale(0.9700,1)"><tspan font-style="normal">8</tspan></text>
<line x1="883.8" y1="1005.9" x2="883.8" y2="1014.2" stroke="#000" stroke-width="4.7" stroke-linecap="butt"/>
<text font-family="Liberation Sans, sans-serif" font-weight="bold" font-size="33.3" fill="#000" stroke="#000" stroke-width="0.6" stroke-linejoin="round" transform="translate(865.48,1047.6) scale(0.9700,1)"><tspan font-style="normal">10</tspan></text>
<polygon points="865.72,1048.74 873.02,1048.74 873.02,1042.88 865.72,1042.88" fill="#fff"/>
<polygon points="877.45,1048.74 884.35,1048.74 884.35,1042.88 877.45,1042.88" fill="#fff"/>
<rect x="877.45" y="1024.39" width="0.7" height="23.51" fill="#000"/>
<line x1="952.4" y1="1005.9" x2="952.4" y2="1014.2" stroke="#000" stroke-width="4.7" stroke-linecap="butt"/>
<text font-family="Liberation Sans, sans-serif" font-weight="bold" font-size="33.3" fill="#000" stroke="#000" stroke-width="0.6" stroke-linejoin="round" transform="translate(933.96,1047.6) scale(0.9700,1)"><tspan font-style="normal">24</tspan></text>
<text font-family="Liberation Sans, sans-serif" font-weight="bold" font-size="34" fill="#000" transform="translate(720.45,1105) scale(0.9215,1)"><tspan font-style="normal">Time (Hours)</tspan></text>
<rect x="1117.8" y="697" width="40.4" height="34.55" fill="url(#hg)" stroke="#000" stroke-width="4.5"/>
<rect x="1185.8" y="697" width="40.4" height="11.15" fill="url(#hg)" stroke="#000" stroke-width="4.5"/>
<rect x="1253.7" y="697" width="40.4" height="27.35" fill="url(#hg)" stroke="#000" stroke-width="4.5"/>
<rect x="1321.6" y="697" width="40.4" height="48.75" fill="url(#hg)" stroke="#000" stroke-width="4.5"/>
<rect x="1389.5" y="697" width="40.4" height="89.45" fill="url(#hg)" stroke="#000" stroke-width="4.5"/>
<line x1="1081.7" y1="697" x2="1467.5" y2="697" stroke="#000" stroke-width="4.7" stroke-linecap="butt"/>
<line x1="1081.7" y1="1005.9" x2="1467.5" y2="1005.9" stroke="#000" stroke-width="4.7" stroke-linecap="butt"/>
<line x1="1138" y1="1005.9" x2="1138" y2="1014" stroke="#000" stroke-width="4.7" stroke-linecap="butt"/>
<text font-family="Liberation Sans, sans-serif" font-weight="bold" font-size="33.3" fill="#000" stroke="#000" stroke-width="0.6" stroke-linejoin="round" transform="translate(1128.45,1048.1) scale(0.9700,1)"><tspan font-style="normal">1</tspan></text>
<polygon points="1128.68,1049.24 1135.99,1049.24 1135.99,1043.38 1128.68,1043.38" fill="#fff"/>
<polygon points="1140.42,1049.24 1147.32,1049.24 1147.32,1043.38 1140.42,1043.38" fill="#fff"/>
<rect x="1140.42" y="1024.89" width="0.7" height="23.51" fill="#000"/>
<line x1="1206" y1="1005.9" x2="1206" y2="1014" stroke="#000" stroke-width="4.7" stroke-linecap="butt"/>
<text font-family="Liberation Sans, sans-serif" font-weight="bold" font-size="33.3" fill="#000" stroke="#000" stroke-width="0.6" stroke-linejoin="round" transform="translate(1197.1,1048.1) scale(0.9700,1)"><tspan font-style="normal">2</tspan></text>
<line x1="1273.9" y1="1005.9" x2="1273.9" y2="1014" stroke="#000" stroke-width="4.7" stroke-linecap="butt"/>
<text font-family="Liberation Sans, sans-serif" font-weight="bold" font-size="33.3" fill="#000" stroke="#000" stroke-width="0.6" stroke-linejoin="round" transform="translate(1265.13,1048.1) scale(0.9700,1)"><tspan font-style="normal">3</tspan></text>
<line x1="1341.8" y1="1005.9" x2="1341.8" y2="1014" stroke="#000" stroke-width="4.7" stroke-linecap="butt"/>
<text font-family="Liberation Sans, sans-serif" font-weight="bold" font-size="33.3" fill="#000" stroke="#000" stroke-width="0.6" stroke-linejoin="round" transform="translate(1332.66,1048.1) scale(0.9700,1)"><tspan font-style="normal">4</tspan></text>
<line x1="1409.7" y1="1005.9" x2="1409.7" y2="1014" stroke="#000" stroke-width="4.7" stroke-linecap="butt"/>
<text font-family="Liberation Sans, sans-serif" font-weight="bold" font-size="33.3" fill="#000" stroke="#000" stroke-width="0.6" stroke-linejoin="round" transform="translate(1400.67,1048.1) scale(0.9700,1)"><tspan font-style="normal">5</tspan></text>
<text font-family="Liberation Sans, sans-serif" font-weight="bold" font-size="34" fill="#000" transform="translate(1117.45,1084.9) scale(0.9210,1)"><tspan font-style="normal">Time after rapamycin</tspan></text>
<text font-family="Liberation Sans, sans-serif" font-weight="bold" font-size="34" fill="#000" transform="translate(1153.88,1122.6) scale(0.9233,1)"><tspan font-style="normal">addition (Hours)</tspan></text>
<rect x="278.5" y="1204.5" width="41.8" height="16.15" fill="url(#ho)" stroke="#000" stroke-width="4.5"/>
<rect x="348" y="1204.5" width="41.8" height="48.55" fill="url(#ho)" stroke="#000" stroke-width="4.5"/>
<rect x="418.2" y="1204.5" width="41.8" height="80.55" fill="url(#ho)" stroke="#000" stroke-width="4.5"/>
<rect x="488.5" y="1204.5" width="41.8" height="79.45" fill="url(#ho)" stroke="#000" stroke-width="4.5"/>
<path d="M 171 1204.5 V 1524.25" stroke="#000" stroke-width="4.7" stroke-linejoin="round" stroke-linecap="butt" fill="none"/>
<line x1="162.2" y1="1204.5" x2="568" y2="1204.5" stroke="#000" stroke-width="4.7" stroke-linecap="butt"/>
<line x1="162" y1="1521.9" x2="568" y2="1521.9" stroke="#000" stroke-width="4.7" stroke-linecap="butt"/>
<line x1="162" y1="1267.98" x2="171" y2="1267.98" stroke="#000" stroke-width="4.7" stroke-linecap="butt"/>
<line x1="162" y1="1331.46" x2="171" y2="1331.46" stroke="#000" stroke-width="4.7" stroke-linecap="butt"/>
<line x1="162" y1="1394.94" x2="171" y2="1394.94" stroke="#000" stroke-width="4.7" stroke-linecap="butt"/>
<line x1="162" y1="1458.42" x2="171" y2="1458.42" stroke="#000" stroke-width="4.7" stroke-linecap="butt"/>
<line x1="162" y1="1521.9" x2="171" y2="1521.9" stroke="#000" stroke-width="4.7" stroke-linecap="butt"/>
<text font-family="Liberation Sans, sans-serif" font-weight="bold" font-size="33.3" fill="#000" stroke="#000" stroke-width="0.6" stroke-linejoin="round" transform="translate(112.42,1215.5) scale(0.9700,1)"><tspan font-style="normal">0.0</tspan></text>
<text font-family="Liberation Sans, sans-serif" font-weight="bold" font-size="33.3" fill="#000" stroke="#000" stroke-width="0.6" stroke-linejoin="round" transform="translate(101.63,1278.98) scale(0.9700,1)"><tspan font-style="normal">-0.2</tspan></text>
<text font-family="Liberation Sans, sans-serif" font-weight="bold" font-size="33.3" fill="#000" stroke="#000" stroke-width="0.6" stroke-linejoin="round" transform="translate(100.51,1342.46) scale(0.9700,1)"><tspan font-style="normal">-0.4</tspan></text>
<text font-family="Liberation Sans, sans-serif" font-weight="bold" font-size="33.3" fill="#000" stroke="#000" stroke-width="0.6" stroke-linejoin="round" transform="translate(101.51,1405.94) scale(0.9700,1)"><tspan font-style="normal">-0.6</tspan></text>
<text font-family="Liberation Sans, sans-serif" font-weight="bold" font-size="33.3" fill="#000" stroke="#000" stroke-width="0.6" stroke-linejoin="round" transform="translate(101.33,1469.42) scale(0.9700,1)"><tspan font-style="normal">-0.8</tspan></text>
<text font-family="Liberation Sans, sans-serif" font-weight="bold" font-size="33.3" fill="#000" stroke="#000" stroke-width="0.6" stroke-linejoin="round" transform="translate(101.67,1532.9) scale(0.9700,1)"><tspan font-style="normal">-1.0</tspan></text>
<polygon points="112.66,1534.04 119.96,1534.04 119.96,1528.18 112.66,1528.18" fill="#fff"/>
<polygon points="124.39,1534.04 131.29,1534.04 131.29,1528.18 124.39,1528.18" fill="#fff"/>
<rect x="124.39" y="1509.69" width="0.7" height="23.51" fill="#000"/>
<line x1="229.1" y1="1521.9" x2="229.1" y2="1530" stroke="#000" stroke-width="4.7" stroke-linecap="butt"/>
<text font-family="Liberation Sans, sans-serif" font-weight="bold" font-size="33.3" fill="#000" stroke="#000" stroke-width="0.6" stroke-linejoin="round" transform="translate(219.55,1565) scale(0.9700,1)"><tspan font-style="normal">1</tspan></text>
<polygon points="219.78,1566.14 227.09,1566.14 227.09,1560.28 219.78,1560.28" fill="#fff"/>
<polygon points="231.52,1566.14 238.42,1566.14 238.42,1560.28 231.52,1560.28" fill="#fff"/>
<rect x="231.52" y="1541.79" width="0.7" height="23.51" fill="#000"/>
<line x1="299.4" y1="1521.9" x2="299.4" y2="1530" stroke="#000" stroke-width="4.7" stroke-linecap="butt"/>
<text font-family="Liberation Sans, sans-serif" font-weight="bold" font-size="33.3" fill="#000" stroke="#000" stroke-width="0.6" stroke-linejoin="round" transform="translate(290.63,1565) scale(0.9700,1)"><tspan font-style="normal">3</tspan></text>
<line x1="368.9" y1="1521.9" x2="368.9" y2="1530" stroke="#000" stroke-width="4.7" stroke-linecap="butt"/>
<text font-family="Liberation Sans, sans-serif" font-weight="bold" font-size="33.3" fill="#000" stroke="#000" stroke-width="0.6" stroke-linejoin="round" transform="translate(359.87,1565) scale(0.9700,1)"><tspan font-style="normal">5</tspan></text>
<line x1="439.1" y1="1521.9" x2="439.1" y2="1530" stroke="#000" stroke-width="4.7" stroke-linecap="butt"/>
<text font-family="Liberation Sans, sans-serif" font-weight="bold" font-size="33.3" fill="#000" stroke="#000" stroke-width="0.6" stroke-linejoin="round" transform="translate(430.13,1565) scale(0.9700,1)"><tspan font-style="normal">7</tspan></text>
<line x1="509.4" y1="1521.9" x2="509.4" y2="1530" stroke="#000" stroke-width="4.7" stroke-linecap="butt"/>
<text font-family="Liberation Sans, sans-serif" font-weight="bold" font-size="33.3" fill="#000" stroke="#000" stroke-width="0.6" stroke-linejoin="round" transform="translate(500.46,1565) scale(0.9700,1)"><tspan font-style="normal">9</tspan></text>
<text font-family="Liberation Sans, sans-serif" font-weight="bold" font-size="34" fill="#000" transform="translate(198.64,1611) scale(0.9424,1)"><tspan font-style="normal">Time after alpha factor</tspan></text>
<text font-family="Liberation Sans, sans-serif" font-weight="bold" font-size="34" fill="#000" transform="translate(245.76,1649.5) scale(0.9464,1)"><tspan font-style="normal">addition (Hours)</tspan></text>
<text font-family="Liberation Sans, sans-serif" font-weight="bold" font-size="34" transform="translate(69,1543.73) rotate(-90) scale(0.9405,1)"><tspan font-style="normal">log</tspan><tspan font-style="normal" font-size="22.44" dy="8">2</tspan><tspan font-style="normal" font-size="34" dy="-8">([RP]/[Total Protein])</tspan></text>
<rect x="770.7" y="1206.1" width="66.8" height="171.65" fill="url(#hg)" stroke="#000" stroke-width="4.5"/>
<rect x="878.6" y="1206.1" width="66.8" height="277.95" fill="url(#hg)" stroke="#000" stroke-width="4.5"/>
<line x1="606.8" y1="1206.1" x2="1001.4" y2="1206.1" stroke="#000" stroke-width="4.7" stroke-linecap="butt"/>
<line x1="606.8" y1="1521.8" x2="1001.4" y2="1521.8" stroke="#000" stroke-width="4.7" stroke-linecap="butt"/>
<line x1="696.3" y1="1521.8" x2="696.3" y2="1530" stroke="#000" stroke-width="4.7" stroke-linecap="butt"/>
<text font-family="Liberation Sans, sans-serif" font-weight="bold" font-size="33.3" fill="#000" stroke="#000" stroke-width="0.6" stroke-linejoin="round" transform="translate(687.4,1565.1) scale(0.9700,1)"><tspan font-style="normal">2</tspan></text>
<line x1="803.8" y1="1521.8" x2="803.8" y2="1530" stroke="#000" stroke-width="4.7" stroke-linecap="butt"/>
<text font-family="Liberation Sans, sans-serif" font-weight="bold" font-size="33.3" fill="#000" stroke="#000" stroke-width="0.6" stroke-linejoin="round" transform="translate(785.48,1565.1) scale(0.9700,1)"><tspan font-style="normal">10</tspan></text>
<polygon points="785.72,1566.24 793.02,1566.24 793.02,1560.38 785.72,1560.38" fill="#fff"/>
<polygon points="797.45,1566.24 804.35,1566.24 804.35,1560.38 797.45,1560.38" fill="#fff"/>
<rect x="797.45" y="1541.89" width="0.7" height="23.51" fill="#000"/>
<line x1="911" y1="1521.8" x2="911" y2="1530" stroke="#000" stroke-width="4.7" stroke-linecap="butt"/>
<text font-family="Liberation Sans, sans-serif" font-weight="bold" font-size="33.3" fill="#000" stroke="#000" stroke-width="0.6" stroke-linejoin="round" transform="translate(892.56,1565.1) scale(0.9700,1)"><tspan font-style="normal">24</tspan></text>
<text font-family="Liberation Sans, sans-serif" font-weight="bold" font-size="34" fill="#000" transform="translate(705.94,1616.7) scale(0.9350,1)"><tspan font-style="normal">Time (Hours)</tspan></text>
<rect x="1165.25" y="1206.1" width="34.5" height="2.75" fill="url(#hg)" stroke="#000" stroke-width="4.5"/>
<rect x="1223.75" y="1206.1" width="34.5" height="10.55" fill="url(#hg)" stroke="#000" stroke-width="4.5"/>
<rect x="1282.25" y="1206.1" width="34.5" height="26.55" fill="url(#hg)" stroke="#000" stroke-width="4.5"/>
<rect x="1340.45" y="1206.1" width="34.5" height="51.15" fill="url(#hg)" stroke="#000" stroke-width="4.5"/>
<rect x="1398.95" y="1206.1" width="34.5" height="64.45" fill="url(#hg)" stroke="#000" stroke-width="4.5"/>
<line x1="1075.9" y1="1206.1" x2="1464.9" y2="1206.1" stroke="#000" stroke-width="4.7" stroke-linecap="butt"/>
<line x1="1075.9" y1="1517.4" x2="1464.9" y2="1517.4" stroke="#000" stroke-width="4.7" stroke-linecap="butt"/>
<line x1="1124.3" y1="1517.4" x2="1124.3" y2="1525.5" stroke="#000" stroke-width="4.7" stroke-linecap="butt"/>
<text font-family="Liberation Sans, sans-serif" font-weight="bold" font-size="33.3" fill="#000" stroke="#000" stroke-width="0.6" stroke-linejoin="round" transform="translate(1114.75,1559.8) scale(0.9700,1)"><tspan font-style="normal">1</tspan></text>
<polygon points="1114.98,1560.94 1122.29,1560.94 1122.29,1555.08 1114.98,1555.08" fill="#fff"/>
<polygon points="1126.72,1560.94 1133.62,1560.94 1133.62,1555.08 1126.72,1555.08" fill="#fff"/>
<rect x="1126.72" y="1536.59" width="0.7" height="23.51" fill="#000"/>
<line x1="1182.5" y1="1517.4" x2="1182.5" y2="1525.5" stroke="#000" stroke-width="4.7" stroke-linecap="butt"/>
<text font-family="Liberation Sans, sans-serif" font-weight="bold" font-size="33.3" fill="#000" stroke="#000" stroke-width="0.6" stroke-linejoin="round" transform="translate(1173.6,1559.8) scale(0.9700,1)"><tspan font-style="normal">2</tspan></text>
<line x1="1241" y1="1517.4" x2="1241" y2="1525.5" stroke="#000" stroke-width="4.7" stroke-linecap="butt"/>
<text font-family="Liberation Sans, sans-serif" font-weight="bold" font-size="33.3" fill="#000" stroke="#000" stroke-width="0.6" stroke-linejoin="round" transform="translate(1232.23,1559.8) scale(0.9700,1)"><tspan font-style="normal">3</tspan></text>
<line x1="1299.5" y1="1517.4" x2="1299.5" y2="1525.5" stroke="#000" stroke-width="4.7" stroke-linecap="butt"/>
<text font-family="Liberation Sans, sans-serif" font-weight="bold" font-size="33.3" fill="#000" stroke="#000" stroke-width="0.6" stroke-linejoin="round" transform="translate(1290.36,1559.8) scale(0.9700,1)"><tspan font-style="normal">4</tspan></text>
<line x1="1357.7" y1="1517.4" x2="1357.7" y2="1525.5" stroke="#000" stroke-width="4.7" stroke-linecap="butt"/>
<text font-family="Liberation Sans, sans-serif" font-weight="bold" font-size="33.3" fill="#000" stroke="#000" stroke-width="0.6" stroke-linejoin="round" transform="translate(1348.67,1559.8) scale(0.9700,1)"><tspan font-style="normal">5</tspan></text>
<line x1="1416.2" y1="1517.4" x2="1416.2" y2="1525.5" stroke="#000" stroke-width="4.7" stroke-linecap="butt"/>
<text font-family="Liberation Sans, sans-serif" font-weight="bold" font-size="33.3" fill="#000" stroke="#000" stroke-width="0.6" stroke-linejoin="round" transform="translate(1407.21,1559.8) scale(0.9700,1)"><tspan font-style="normal">6</tspan></text>
<text font-family="Liberation Sans, sans-serif" font-weight="bold" font-size="34" fill="#000" transform="translate(1111.74,1611) scale(0.9298,1)"><tspan font-style="normal">Time after rapamycin</tspan></text>
<text font-family="Liberation Sans, sans-serif" font-weight="bold" font-size="34" fill="#000" transform="translate(1148.87,1648.5) scale(0.9306,1)"><tspan font-style="normal">addition (Hours)</tspan></text>
</svg></body></html>
